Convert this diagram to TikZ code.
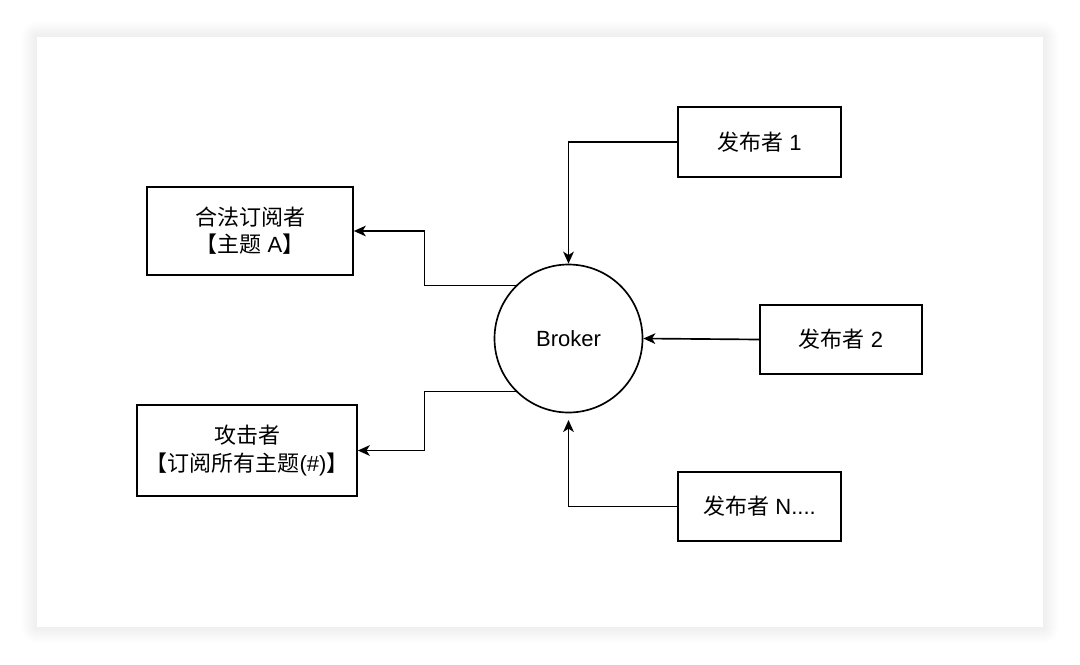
\documentclass[tikz,border=0pt]{standalone}
\usepackage{fontspec}
\setmainfont{Liberation Sans}
\newfontfamily\cjk{Noto Sans CJK SC}
\usetikzlibrary{arrows.meta}
\def\zh#1{{\cjk #1}}

\begin{document}
\begin{tikzpicture}[x=0.75pt,y=-0.75pt,
    every node/.style={font=\fontsize{16.5}{20.5}\selectfont},
    box/.style={draw,line width=1.25pt,align=center,inner sep=0pt},
    hub/.style={draw,circle,line width=1.25pt,minimum size=111pt,inner sep=0pt},
    link/.style={line width=1.25pt,-{Stealth[length=9pt,width=8pt,inset=2.5pt]}}]
  \useasboundingbox (0,0) rectangle (1080,664);
  \fill[white] (0,0) rectangle (1080,664);
  % card with soft shadow
  \foreach \d in {1,...,16}
    \fill[black,opacity=0.005,rounded corners=\d*0.75pt] (37-\d,37-\d) rectangle (1043+\d,627+\d);
  \fill[white] (37,37) rectangle (1043,627);
  % nodes
  \node[hub] (broker) at (568.5,338.5) {Broker};
  \node[box,minimum width=154.5pt,minimum height=66pt] (sub) at (250,231)
    {\zh{合法订阅者}\\\zh{【主题} A\zh{】}};
  \node[box,minimum width=165pt,minimum height=68pt] (atk) at (247,450.5)
    {\zh{攻击者}\\\zh{【订阅所有主题}(\#)\zh{】}};
  \node[box,minimum width=122pt,minimum height=52.5pt] (pub1) at (759.5,142) {\zh{发布者} 1};
  \node[box,minimum width=121.5pt,minimum height=52pt] (pub2) at (841,339.5) {\zh{发布者} 2};
  \node[box,minimum width=122pt,minimum height=52pt] (pubN) at (759.5,506.5) {\zh{发布者} N....};
  % connectors
  \draw[link] (pub1.west) -| (broker.north);
  \draw[link] (pub2.west) -- (broker.east);
  \draw[link,shorten >=5pt] (pubN.west) -| (broker.south);
  \draw[link] (broker.135) -- ++(-91,0) |- (sub.east);
  \draw[link] (broker.225) -- ++(-91,0) |- (atk.east);
\end{tikzpicture}
\end{document}
